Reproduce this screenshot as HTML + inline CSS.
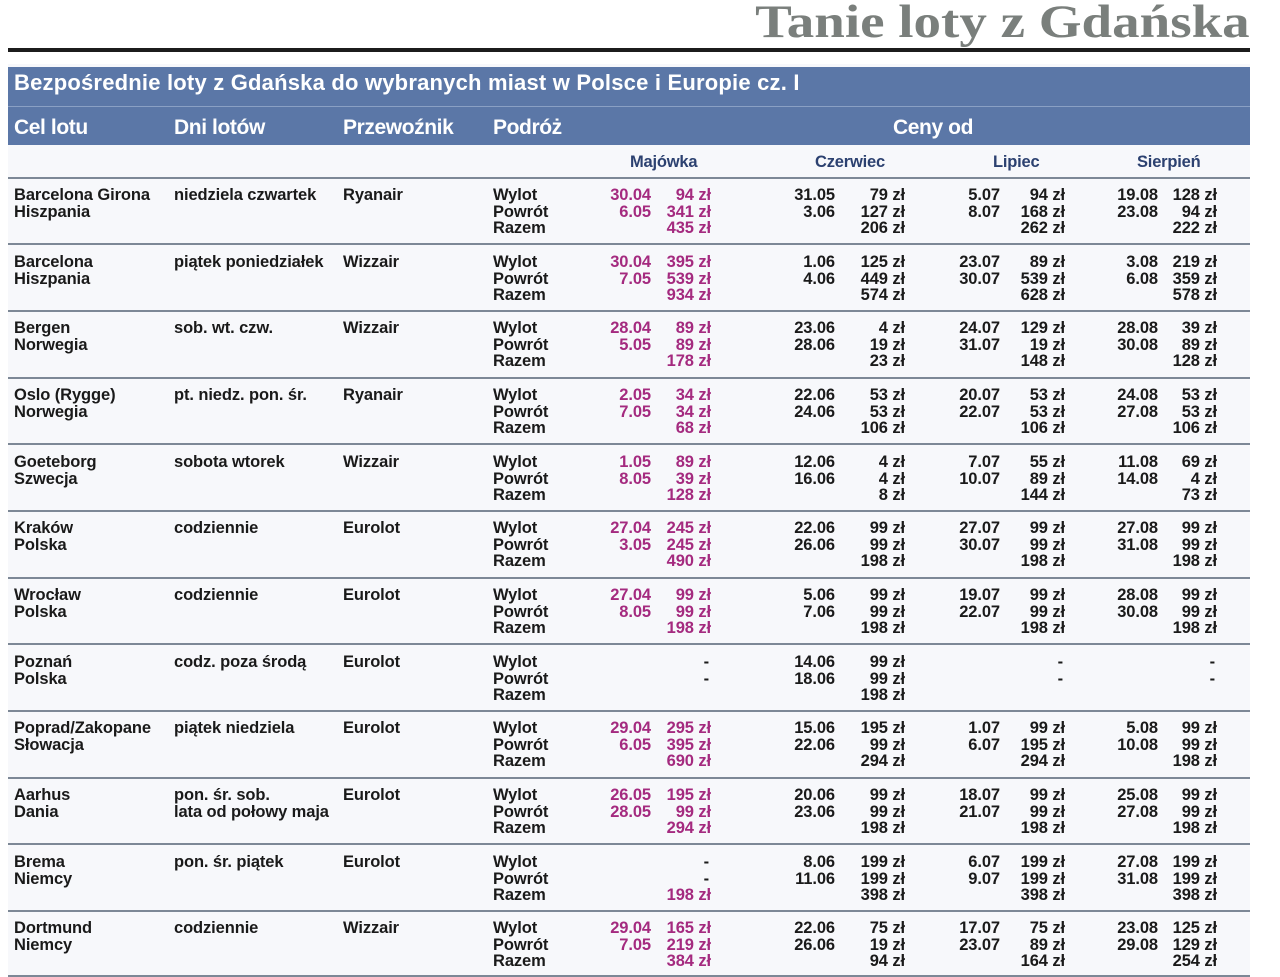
<!DOCTYPE html>
<html><head><meta charset="utf-8"><style>
body{margin:0;width:1280px;height:977px;background:#fff;position:relative;overflow:hidden;font-family:"Liberation Sans",sans-serif;}
.a{position:absolute;white-space:nowrap}
#title{right:30px;top:-5px;font-family:"Liberation Serif",serif;font-weight:bold;font-size:47px;color:#7a7f7c;letter-spacing:0px;transform:scaleX(1.17);transform-origin:right top}
#rule{left:8px;top:48px;width:1242px;height:4px;background:#1c1c1c}
#tbl{left:8px;top:64px;width:1242px;height:913px;background:#f7f8fb}
#band{left:8px;top:67px;width:1242px;height:78px;background:#5b77a7}
#bandline{left:8px;top:106px;width:1242px;height:1px;background:#8aa0c4}
.h{color:#fff;font-weight:bold;letter-spacing:-0.4px}
.mh{color:#2c4170;font-weight:bold;font-size:16.5px;top:153px;letter-spacing:-0.2px}
.sep{left:8px;width:1242px;height:2px;background:#7d8896}
.row{position:absolute;left:0;width:1280px;height:66px}
.t{position:absolute;top:9px;font-weight:bold;font-size:16.5px;line-height:16.7px;color:#1a1a1a;letter-spacing:-0.1px;white-space:nowrap}
.r{text-align:right}
.p{color:#a42a7f}
.k{color:#1a1a1a}
.x1{left:14px}.x2{left:174px}.x3{left:343px}.x4{left:493px}
.m1{right:629px}.m2{right:569px}.c1{right:445px}.c2{right:375px}.l1{right:280px}.l2{right:215px}.s1{right:122px}.s2{right:63px}
</style></head><body>
<div class="a" id="title">Tanie loty z Gdańska</div>
<div class="a" id="rule"></div>
<div class="a" id="tbl"></div>
<div class="a" id="band"></div>
<div class="a" id="bandline"></div>
<div class="a h" style="left:14px;top:70px;font-size:22px;letter-spacing:0.2px">Bezpośrednie loty z Gdańska do wybranych miast w Polsce i Europie cz. I</div>
<div class="a h" style="left:14px;top:116px;font-size:21px">Cel lotu</div>
<div class="a h" style="left:174px;top:116px;font-size:21px">Dni lotów</div>
<div class="a h" style="left:343px;top:116px;font-size:21px">Przewoźnik</div>
<div class="a h" style="left:493px;top:116px;font-size:21px">Podróż</div>
<div class="a h" style="left:893px;top:116px;font-size:21px">Ceny od</div>
<div class="a mh" style="left:630px">Majówka</div>
<div class="a mh" style="left:815px">Czerwiec</div>
<div class="a mh" style="left:993px">Lipiec</div>
<div class="a mh" style="left:1137px">Sierpień</div>
<div class="a sep" style="top:177px"></div>
<div class="a sep" style="top:243px"></div>
<div class="a sep" style="top:310px"></div>
<div class="a sep" style="top:377px"></div>
<div class="a sep" style="top:443px"></div>
<div class="a sep" style="top:510px"></div>
<div class="a sep" style="top:577px"></div>
<div class="a sep" style="top:643px"></div>
<div class="a sep" style="top:710px"></div>
<div class="a sep" style="top:777px"></div>
<div class="a sep" style="top:843px"></div>
<div class="a sep" style="top:910px"></div>
<div class="a sep" style="top:975px"></div>

<div class="row" style="top:178px">
<div class="t x1">Barcelona Girona<br>Hiszpania</div><div class="t x2">niedziela czwartek</div><div class="t x3">Ryanair</div><div class="t x4">Wylot<br>Powrót<br>Razem</div>
<div class="t r p m1">30.04<br>6.05</div><div class="t r p m2">94 zł<br>341 zł<br>435 zł</div>
<div class="t r c1">31.05<br>3.06</div><div class="t r c2">79 zł<br>127 zł<br>206 zł</div>
<div class="t r l1">5.07<br>8.07</div><div class="t r l2">94 zł<br>168 zł<br>262 zł</div>
<div class="t r s1">19.08<br>23.08</div><div class="t r s2">128 zł<br>94 zł<br>222 zł</div>
</div>
<div class="row" style="top:245px">
<div class="t x1">Barcelona<br>Hiszpania</div><div class="t x2">piątek poniedziałek</div><div class="t x3">Wizzair</div><div class="t x4">Wylot<br>Powrót<br>Razem</div>
<div class="t r p m1">30.04<br>7.05</div><div class="t r p m2">395 zł<br>539 zł<br>934 zł</div>
<div class="t r c1">1.06<br>4.06</div><div class="t r c2">125 zł<br>449 zł<br>574 zł</div>
<div class="t r l1">23.07<br>30.07</div><div class="t r l2">89 zł<br>539 zł<br>628 zł</div>
<div class="t r s1">3.08<br>6.08</div><div class="t r s2">219 zł<br>359 zł<br>578 zł</div>
</div>
<div class="row" style="top:311px">
<div class="t x1">Bergen<br>Norwegia</div><div class="t x2">sob. wt. czw.</div><div class="t x3">Wizzair</div><div class="t x4">Wylot<br>Powrót<br>Razem</div>
<div class="t r p m1">28.04<br>5.05</div><div class="t r p m2">89 zł<br>89 zł<br>178 zł</div>
<div class="t r c1">23.06<br>28.06</div><div class="t r c2">4 zł<br>19 zł<br>23 zł</div>
<div class="t r l1">24.07<br>31.07</div><div class="t r l2">129 zł<br>19 zł<br>148 zł</div>
<div class="t r s1">28.08<br>30.08</div><div class="t r s2">39 zł<br>89 zł<br>128 zł</div>
</div>
<div class="row" style="top:378px">
<div class="t x1">Oslo (Rygge)<br>Norwegia</div><div class="t x2">pt. niedz. pon. śr.</div><div class="t x3">Ryanair</div><div class="t x4">Wylot<br>Powrót<br>Razem</div>
<div class="t r p m1">2.05<br>7.05</div><div class="t r p m2">34 zł<br>34 zł<br>68 zł</div>
<div class="t r c1">22.06<br>24.06</div><div class="t r c2">53 zł<br>53 zł<br>106 zł</div>
<div class="t r l1">20.07<br>22.07</div><div class="t r l2">53 zł<br>53 zł<br>106 zł</div>
<div class="t r s1">24.08<br>27.08</div><div class="t r s2">53 zł<br>53 zł<br>106 zł</div>
</div>
<div class="row" style="top:445px">
<div class="t x1">Goeteborg<br>Szwecja</div><div class="t x2">sobota wtorek</div><div class="t x3">Wizzair</div><div class="t x4">Wylot<br>Powrót<br>Razem</div>
<div class="t r p m1">1.05<br>8.05</div><div class="t r p m2">89 zł<br>39 zł<br>128 zł</div>
<div class="t r c1">12.06<br>16.06</div><div class="t r c2">4 zł<br>4 zł<br>8 zł</div>
<div class="t r l1">7.07<br>10.07</div><div class="t r l2">55 zł<br>89 zł<br>144 zł</div>
<div class="t r s1">11.08<br>14.08</div><div class="t r s2">69 zł<br>4 zł<br>73 zł</div>
</div>
<div class="row" style="top:511px">
<div class="t x1">Kraków<br>Polska</div><div class="t x2">codziennie</div><div class="t x3">Eurolot</div><div class="t x4">Wylot<br>Powrót<br>Razem</div>
<div class="t r p m1">27.04<br>3.05</div><div class="t r p m2">245 zł<br>245 zł<br>490 zł</div>
<div class="t r c1">22.06<br>26.06</div><div class="t r c2">99 zł<br>99 zł<br>198 zł</div>
<div class="t r l1">27.07<br>30.07</div><div class="t r l2">99 zł<br>99 zł<br>198 zł</div>
<div class="t r s1">27.08<br>31.08</div><div class="t r s2">99 zł<br>99 zł<br>198 zł</div>
</div>
<div class="row" style="top:578px">
<div class="t x1">Wrocław<br>Polska</div><div class="t x2">codziennie</div><div class="t x3">Eurolot</div><div class="t x4">Wylot<br>Powrót<br>Razem</div>
<div class="t r p m1">27.04<br>8.05</div><div class="t r p m2">99 zł<br>99 zł<br>198 zł</div>
<div class="t r c1">5.06<br>7.06</div><div class="t r c2">99 zł<br>99 zł<br>198 zł</div>
<div class="t r l1">19.07<br>22.07</div><div class="t r l2">99 zł<br>99 zł<br>198 zł</div>
<div class="t r s1">28.08<br>30.08</div><div class="t r s2">99 zł<br>99 zł<br>198 zł</div>
</div>
<div class="row" style="top:645px">
<div class="t x1">Poznań<br>Polska</div><div class="t x2">codz. poza środą</div><div class="t x3">Eurolot</div><div class="t x4">Wylot<br>Powrót<br>Razem</div>
<div class="t r m2" style="right:571px">-<br>-</div>
<div class="t r c1">14.06<br>18.06</div><div class="t r c2">99 zł<br>99 zł<br>198 zł</div>
<div class="t r l2" style="right:217px">-<br>-</div>
<div class="t r s2" style="right:65px">-<br>-</div>
</div>
<div class="row" style="top:711px">
<div class="t x1">Poprad/Zakopane<br>Słowacja</div><div class="t x2">piątek niedziela</div><div class="t x3">Eurolot</div><div class="t x4">Wylot<br>Powrót<br>Razem</div>
<div class="t r p m1">29.04<br>6.05</div><div class="t r p m2">295 zł<br>395 zł<br>690 zł</div>
<div class="t r c1">15.06<br>22.06</div><div class="t r c2">195 zł<br>99 zł<br>294 zł</div>
<div class="t r l1">1.07<br>6.07</div><div class="t r l2">99 zł<br>195 zł<br>294 zł</div>
<div class="t r s1">5.08<br>10.08</div><div class="t r s2">99 zł<br>99 zł<br>198 zł</div>
</div>
<div class="row" style="top:778px">
<div class="t x1">Aarhus<br>Dania</div><div class="t x2">pon. śr. sob.<br>lata od połowy maja</div><div class="t x3">Eurolot</div><div class="t x4">Wylot<br>Powrót<br>Razem</div>
<div class="t r p m1">26.05<br>28.05</div><div class="t r p m2">195 zł<br>99 zł<br>294 zł</div>
<div class="t r c1">20.06<br>23.06</div><div class="t r c2">99 zł<br>99 zł<br>198 zł</div>
<div class="t r l1">18.07<br>21.07</div><div class="t r l2">99 zł<br>99 zł<br>198 zł</div>
<div class="t r s1">25.08<br>27.08</div><div class="t r s2">99 zł<br>99 zł<br>198 zł</div>
</div>
<div class="row" style="top:845px">
<div class="t x1">Brema<br>Niemcy</div><div class="t x2">pon. śr. piątek</div><div class="t x3">Eurolot</div><div class="t x4">Wylot<br>Powrót<br>Razem</div>
<div class="t r p m2"><span class="k" style="margin-right:2px">-</span><br><span class="k" style="margin-right:2px">-</span><br>198 zł</div>
<div class="t r c1">8.06<br>11.06</div><div class="t r c2">199 zł<br>199 zł<br>398 zł</div>
<div class="t r l1">6.07<br>9.07</div><div class="t r l2">199 zł<br>199 zł<br>398 zł</div>
<div class="t r s1">27.08<br>31.08</div><div class="t r s2">199 zł<br>199 zł<br>398 zł</div>
</div>
<div class="row" style="top:911px">
<div class="t x1">Dortmund<br>Niemcy</div><div class="t x2">codziennie</div><div class="t x3">Wizzair</div><div class="t x4">Wylot<br>Powrót<br>Razem</div>
<div class="t r p m1">29.04<br>7.05</div><div class="t r p m2">165 zł<br>219 zł<br>384 zł</div>
<div class="t r c1">22.06<br>26.06</div><div class="t r c2">75 zł<br>19 zł<br>94 zł</div>
<div class="t r l1">17.07<br>23.07</div><div class="t r l2">75 zł<br>89 zł<br>164 zł</div>
<div class="t r s1">23.08<br>29.08</div><div class="t r s2">125 zł<br>129 zł<br>254 zł</div>
</div>
</body></html>
